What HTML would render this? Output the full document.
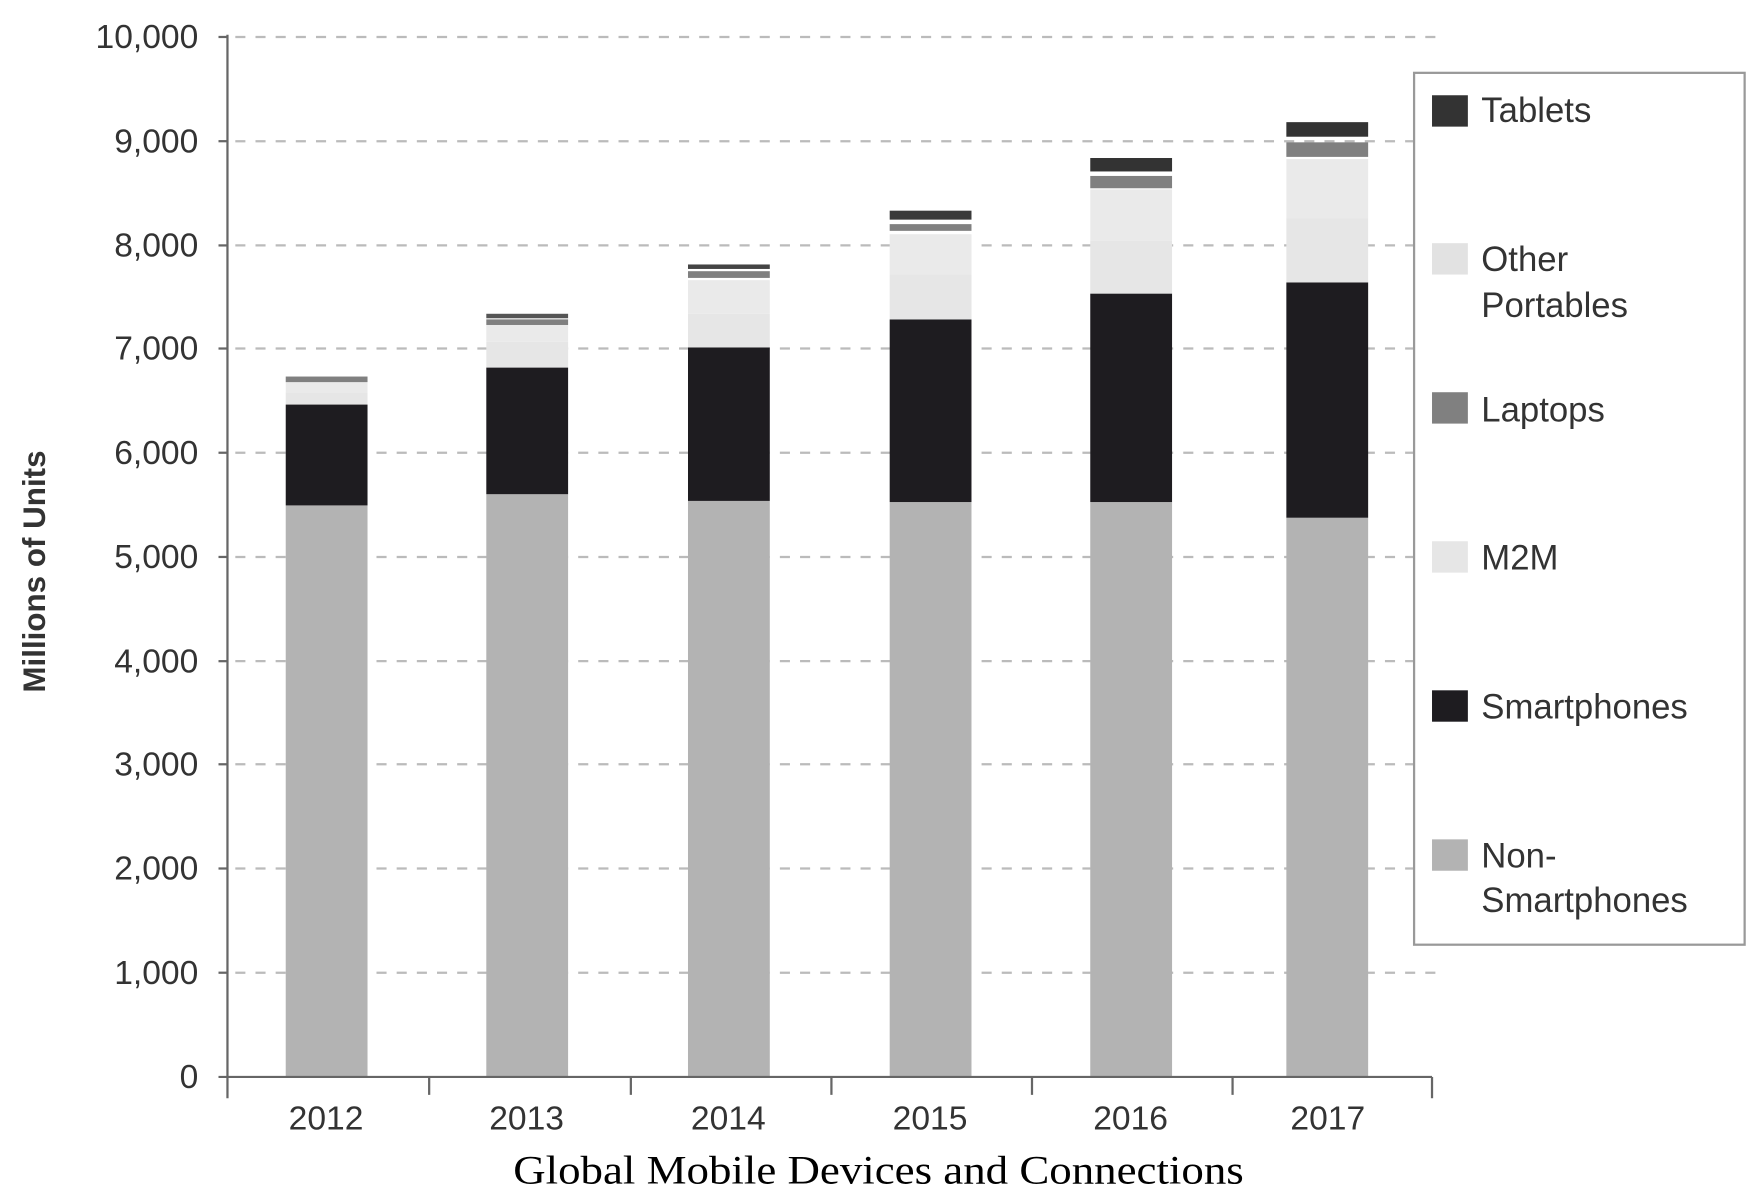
<!DOCTYPE html>
<html><head><style>html,body{margin:0;padding:0;background:#fff}svg{display:block}</style></head>
<body>
<svg width="1748" height="1189" viewBox="0 0 1560 1061" preserveAspectRatio="none" xmlns="http://www.w3.org/2000/svg" font-family="Liberation Sans, sans-serif">
<rect width="1560" height="1061" fill="#fff"/>
<g stroke="#bbb" stroke-width="2" stroke-dasharray="9 9">
<line x1="210" y1="33" x2="1285" y2="33"/>
<line x1="210" y1="126" x2="1285" y2="126"/>
<line x1="210" y1="219" x2="1285" y2="219"/>
<line x1="210" y1="311" x2="1285" y2="311"/>
<line x1="210" y1="404" x2="1285" y2="404"/>
<line x1="210" y1="497" x2="1285" y2="497"/>
<line x1="210" y1="590" x2="1285" y2="590"/>
<line x1="210" y1="682" x2="1285" y2="682"/>
<line x1="210" y1="775" x2="1285" y2="775"/>
<line x1="210" y1="868" x2="1285" y2="868"/>
</g>
<g>
<rect x="255" y="451" width="73" height="510" fill="#b3b3b3"/>
<rect x="255" y="361" width="73" height="90" fill="#1e1c20"/>
<rect x="255" y="350" width="73" height="11" fill="#e6e6e6"/>
<rect x="255" y="341" width="73" height="9" fill="#eaeaea"/>
<rect x="255" y="336" width="73" height="5" fill="#808080"/>
<rect x="434" y="441" width="73" height="520" fill="#b3b3b3"/>
<rect x="434" y="328" width="73" height="113" fill="#1e1c20"/>
<rect x="434" y="305" width="73" height="23" fill="#e6e6e6"/>
<rect x="434" y="290" width="73" height="15" fill="#eaeaea"/>
<rect x="434" y="285" width="73" height="5" fill="#808080"/>
<rect x="434" y="280" width="73" height="4" fill="#555"/>
<rect x="614" y="447" width="73" height="514" fill="#b3b3b3"/>
<rect x="614" y="310" width="73" height="137" fill="#1e1c20"/>
<rect x="614" y="280" width="73" height="30" fill="#e6e6e6"/>
<rect x="614" y="250" width="73" height="30" fill="#eaeaea"/>
<rect x="614" y="242" width="73" height="6" fill="#808080"/>
<rect x="614" y="236" width="73" height="4" fill="#444"/>
<rect x="794" y="448" width="73" height="513" fill="#b3b3b3"/>
<rect x="794" y="285" width="73" height="163" fill="#1e1c20"/>
<rect x="794" y="245" width="73" height="40" fill="#e6e6e6"/>
<rect x="794" y="209" width="73" height="36" fill="#eaeaea"/>
<rect x="794" y="200" width="73" height="6" fill="#808080"/>
<rect x="794" y="188" width="73" height="8" fill="#3a3a3a"/>
<rect x="973" y="448" width="73" height="513" fill="#b3b3b3"/>
<rect x="973" y="262" width="73" height="186" fill="#1e1c20"/>
<rect x="973" y="215" width="73" height="47" fill="#e6e6e6"/>
<rect x="973" y="169" width="73" height="46" fill="#eaeaea"/>
<rect x="973" y="157" width="73" height="11" fill="#808080"/>
<rect x="973" y="141" width="73" height="12" fill="#333"/>
<rect x="1148" y="462" width="73" height="499" fill="#b3b3b3"/>
<rect x="1148" y="252" width="73" height="210" fill="#1e1c20"/>
<rect x="1148" y="195" width="73" height="57" fill="#e6e6e6"/>
<rect x="1148" y="142" width="73" height="53" fill="#eaeaea"/>
<rect x="1148" y="127" width="73" height="13" fill="#808080"/>
<rect x="1148" y="109" width="73" height="13" fill="#333"/>
</g>
<g stroke="#666" stroke-width="2">
<line x1="203" y1="31" x2="203" y2="980"/>
<line x1="195" y1="961" x2="1278" y2="961"/>
<line x1="383" y1="961" x2="383" y2="977"/>
<line x1="563" y1="961" x2="563" y2="977"/>
<line x1="742" y1="961" x2="742" y2="977"/>
<line x1="921" y1="961" x2="921" y2="977"/>
<line x1="1100" y1="961" x2="1100" y2="977"/>
<line x1="1278" y1="961" x2="1278" y2="980"/>
<line x1="195" y1="33" x2="203" y2="33"/><line x1="195" y1="126" x2="203" y2="126"/><line x1="195" y1="219" x2="203" y2="219"/><line x1="195" y1="311" x2="203" y2="311"/><line x1="195" y1="404" x2="203" y2="404"/><line x1="195" y1="497" x2="203" y2="497"/><line x1="195" y1="590" x2="203" y2="590"/><line x1="195" y1="682" x2="203" y2="682"/><line x1="195" y1="775" x2="203" y2="775"/><line x1="195" y1="868" x2="203" y2="868"/>
</g>
<g font-size="30" fill="#333" text-anchor="end">
<text x="177" y="43">10,000</text>
<text x="177" y="136">9,000</text>
<text x="177" y="229">8,000</text>
<text x="177" y="321">7,000</text>
<text x="177" y="414">6,000</text>
<text x="177" y="507">5,000</text>
<text x="177" y="600">4,000</text>
<text x="177" y="692">3,000</text>
<text x="177" y="785">2,000</text>
<text x="177" y="878">1,000</text>
<text x="177" y="971">0</text>
</g>
<text transform="translate(40,510) rotate(-90)" font-size="28" font-weight="bold" fill="#333" text-anchor="middle">Millions of Units</text>
<g font-size="30" fill="#333" text-anchor="middle">
<text x="291" y="1008">2012</text><text x="470" y="1008">2013</text><text x="650" y="1008">2014</text><text x="830" y="1008">2015</text><text x="1009" y="1008">2016</text><text x="1185" y="1008">2017</text>
</g>
<text x="458" y="1056" font-family="Liberation Serif, serif" font-size="36" fill="#000" textLength="652" lengthAdjust="spacingAndGlyphs">Global Mobile Devices and Connections</text>
<rect x="1262" y="65" width="295" height="778" fill="#fff" stroke="#999" stroke-width="2"/>
<g>
<rect x="1278" y="85" width="32" height="28" fill="#333"/>
<rect x="1278" y="217" width="32" height="28" fill="#e2e2e2"/>
<rect x="1278" y="350" width="32" height="28" fill="#808080"/>
<rect x="1278" y="483" width="32" height="28" fill="#e6e6e6"/>
<rect x="1278" y="616" width="32" height="28" fill="#1e1c20"/>
<rect x="1278" y="749" width="32" height="28" fill="#b3b3b3"/>
</g>
<g font-size="31" fill="#333">
<text x="1322" y="109">Tablets</text>
<text x="1322" y="242">Other</text><text x="1322" y="283">Portables</text>
<text x="1322" y="376">Laptops</text>
<text x="1322" y="508">M2M</text>
<text x="1322" y="641">Smartphones</text>
<text x="1322" y="774">Non-</text><text x="1322" y="814">Smartphones</text>
</g>
</svg>
</body></html>
